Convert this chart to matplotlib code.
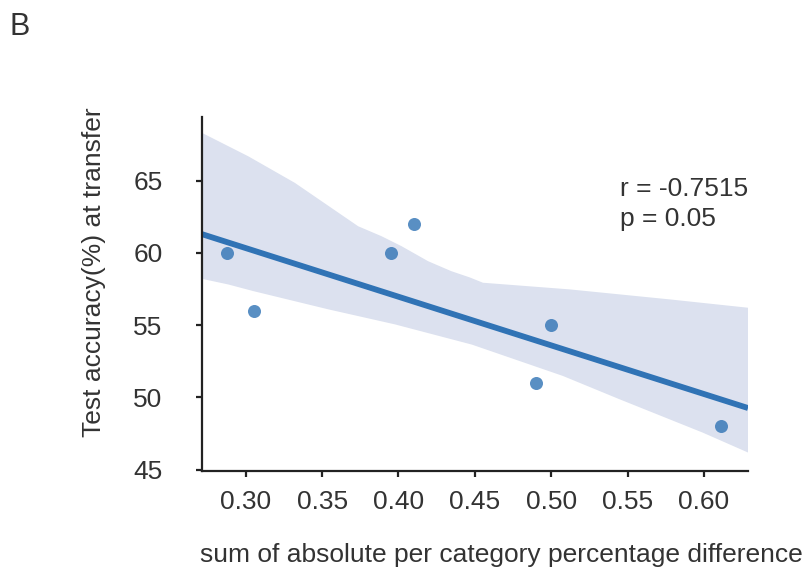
import numpy as np
import matplotlib
matplotlib.use("Agg")
import matplotlib.pyplot as plt

# data
diff_sum = [0.2879, 0.3054, 0.3953, 0.4102, 0.4903, 0.4996, 0.6112]
test_acc = [60, 56, 60, 62, 51, 55, 48]

# bootstrap confidence band edges
band_upper_x = [0.2714, 0.3017, 0.3322, 0.3736, 0.3889, 0.4020, 0.4194, 0.4346, 0.4466, 0.4553, 0.5120, 0.5773, 0.6288]
band_upper_y = [68.3, 66.68, 64.84, 61.84, 61.15, 60.46, 59.42, 58.73, 58.30, 57.93, 57.47, 56.78, 56.20]
band_lower_x = [0.2714, 0.2886, 0.3050, 0.3540, 0.3976, 0.4480, 0.5076, 0.5446, 0.5991, 0.6288]
band_lower_y = [58.2, 57.81, 57.35, 56.09, 55.05, 53.65, 51.48, 49.87, 47.56, 46.18]

stats_text = "r = -0.7515\np = 0.05"

plt.rcParams["font.family"] = ["Liberation Sans", "DejaVu Sans"]

line_color = "#3073b5"
band_color = "#dce1ef"
text_color = "#333333"
label_size = 19

fig = plt.figure(figsize=(8.12, 5.71), dpi=100)
ax = fig.add_axes([0.2488, 0.1751, 0.6724, 0.62])

x = np.array(diff_sum)
y = np.array(test_acc)
xlim = (0.2714, 0.6288)
slope, intercept = np.polyfit(x, y, 1)
xs = np.array(xlim)

band_x = np.concatenate([band_upper_x, band_lower_x[::-1]])
band_y = np.concatenate([band_upper_y, band_lower_y[::-1]])
ax.fill(band_x, band_y, color=band_color, linewidth=0)
ax.plot(xs, slope * xs + intercept, color=line_color, linewidth=4.2, solid_capstyle="butt")
ax.scatter(x, y, s=88, color=line_color, alpha=0.8, linewidths=0, zorder=3)

ax.set_xlim(*xlim)
ax.set_ylim(44.9, 69.4)
ax.set_xticks([0.30, 0.35, 0.40, 0.45, 0.50, 0.55, 0.60])
ax.set_xticklabels(["0.30", "0.35", "0.40", "0.45", "0.50", "0.55", "0.60"])
ax.set_yticks([45, 50, 55, 60, 65])

for side in ["top", "right"]:
    ax.spines[side].set_visible(False)
for side in ["left", "bottom"]:
    ax.spines[side].set_linewidth(1.6)
    ax.spines[side].set_color("#222222")

ax.tick_params(axis="x", length=4.5, width=1.6, pad=9, labelsize=label_size, colors="#222222", labelcolor=text_color)
ax.tick_params(axis="y", length=4.5, width=1.6, pad=24, labelsize=label_size, colors="#222222", labelcolor=text_color)

fig.text(0.116, 0.524, "Test accuracy(%) at transfer", rotation=90, ha="center", va="center",
         fontsize=label_size, color=text_color)
fig.text(0.618, 0.028, "sum of absolute per category percentage difference", ha="center", va="center",
         fontsize=label_size, color=text_color)
fig.text(0.763, 0.643, stats_text, ha="left", va="center", fontsize=label_size, color=text_color,
         linespacing=1.3)
fig.text(0.012, 0.952, "B", ha="left", va="center", fontsize=22, color=text_color)

fig.savefig("out.png", dpi=100)
